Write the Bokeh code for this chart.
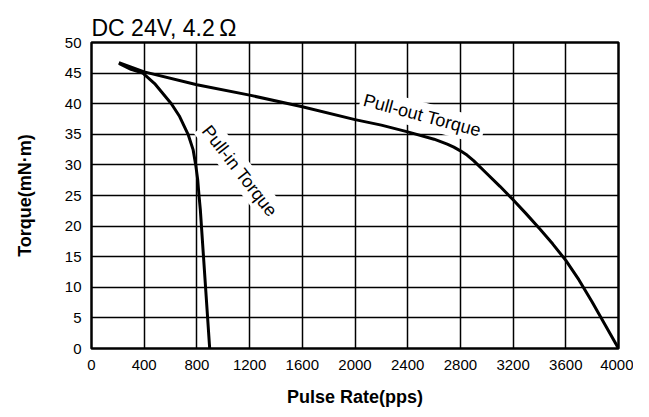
from bokeh.plotting import figure
from bokeh.models import Label, Range1d, FixedTicker
from bokeh.embed import file_html
from bokeh.resources import INLINE

pullout_x = [208, 400, 800, 1200, 1600, 2000, 2200, 2400, 2600, 2700, 2750, 2800, 2850, 2900, 3000, 3100, 3200, 3300, 3400, 3500, 3600, 3700, 3800, 3900, 4000]
pullout_y = [46.7, 45.2, 43.1, 41.4, 39.5, 37.4, 36.5, 35.4, 34.2, 33.4, 32.9, 32.3, 31.6, 30.7, 28.6, 26.5, 24.3, 22.0, 19.6, 17.1, 14.4, 11.2, 7.6, 3.8, 0.0]

pullin_x = [208, 300, 390, 479, 606, 669, 733, 771, 791, 806, 816, 826, 897]
pullin_y = [46.6, 45.6, 45.0, 43.3, 40.0, 37.9, 35.0, 32.5, 30.0, 27.6, 25.0, 22.7, 0.0]

x_ticks = [0, 400, 800, 1200, 1600, 2000, 2400, 2800, 3200, 3600, 4000]
y_ticks = [0, 5, 10, 15, 20, 25, 30, 35, 40, 45, 50]

title_text = "DC 24V, 4.2\u2009\u03a9"
x_label = "Pulse Rate(pps)"
y_label = "Torque(mN\u00b7m)"
label_out = "Pull-out Torque"
label_in = "Pull-in Torque"

FONT = "Liberation Sans"

p = figure(width=633, height=409, output_backend="svg", toolbar_location=None,
           x_range=Range1d(0, 4000), y_range=Range1d(0, 50),
           min_border_left=91, min_border_right=15, min_border_top=42, min_border_bottom=59)

p.title.text = title_text
p.title.text_font = FONT
p.title.text_font_size = "23px"
p.title.text_font_style = "normal"
p.title.text_color = "black"
p.title.align = "left"
p.title.standoff = 3
p.title.offset = 0

p.outline_line_color = "black"
p.outline_line_width = 2.5
p.outline_line_alpha = 1.0

for g in (p.xgrid, p.ygrid):
    g.grid_line_color = "black"
    g.grid_line_width = 1.5
    g.grid_line_alpha = 1.0

p.xaxis.ticker = FixedTicker(ticks=x_ticks)
p.yaxis.ticker = FixedTicker(ticks=y_ticks)
p.xgrid.ticker = FixedTicker(ticks=x_ticks)
p.ygrid.ticker = FixedTicker(ticks=y_ticks)

for ax in (p.xaxis, p.yaxis):
    ax.axis_line_color = None
    ax.major_tick_line_color = None
    ax.minor_tick_line_color = None
    ax.major_label_text_font = FONT
    ax.major_label_text_font_size = "15px"
    ax.major_label_text_color = "black"
    ax.axis_label_text_font = FONT
    ax.axis_label_text_font_size = "18px"
    ax.axis_label_text_font_style = "bold"
    ax.axis_label_text_color = "black"

p.xaxis.axis_label = x_label
p.yaxis.axis_label = y_label
p.xaxis.major_label_standoff = 5
p.yaxis.major_label_standoff = 4
p.xaxis.axis_label_standoff = 14
p.yaxis.axis_label_standoff = 27

p.line(pullout_x, pullout_y, line_color="black", line_width=3, line_join="round")
p.line(pullin_x, pullin_y, line_color="black", line_width=3, line_join="round")

p.add_layout(Label(x=2510, y=38.1, text=label_out, angle=-15, angle_units="deg",
                   text_align="center", text_baseline="middle", text_font=FONT,
                   text_font_size="18px", text_color="black",
                   background_fill_color="white", background_fill_alpha=1.0, padding=3))
p.add_layout(Label(x=1125, y=29.0, text=label_in, angle=-52, angle_units="deg",
                   text_align="center", text_baseline="middle", text_font=FONT,
                   text_font_size="18px", text_color="black",
                   background_fill_color="white", background_fill_alpha=1.0, padding=3))

open("out.html", "w").write(file_html(p, INLINE))
